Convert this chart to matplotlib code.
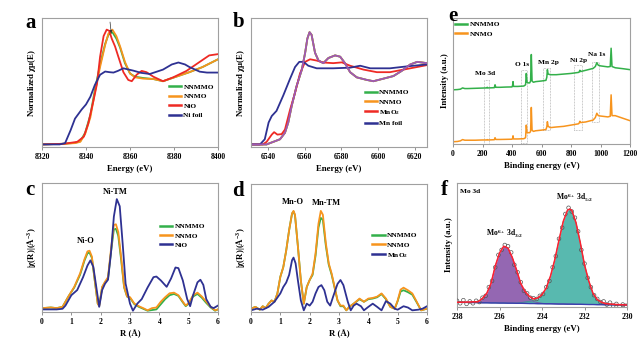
import matplotlib
matplotlib.use("Agg")
import matplotlib.pyplot as plt
from matplotlib.patches import Rectangle

plt.rcParams["font.family"] = ["Liberation Serif", "DejaVu Serif"]
plt.rcParams["font.weight"] = "bold"
plt.rcParams["mathtext.fontset"] = "custom"
plt.rcParams["mathtext.rm"] = "Liberation Serif:bold"
plt.rcParams["mathtext.it"] = "Liberation Serif:bold"
plt.rcParams["mathtext.bf"] = "Liberation Serif:bold"
plt.rcParams["mathtext.default"] = "rm"

GREEN = "#33b04a"
ORANGE = "#f7941d"
RED = "#ee2a24"
BLUE = "#2e3192"
PURPLE = "#9b59b6"

# ---- (a) Ni K-edge XANES (normalised)
a_nio_e = [8320, 8330, 8336, 8339, 8341, 8343.4, 8345, 8346.4, 8348, 8349.4, 8350.6, 8351.7,
           8353.2, 8354.7, 8357, 8359.2, 8360.8, 8363, 8365.3, 8367.5, 8370.6, 8375, 8379.6,
           8385.7, 8391.7, 8396, 8400]
a_nio = [0.02, 0.025, 0.04, 0.08, 0.18, 0.36, 0.49, 0.70, 0.86, 0.91, 0.90, 0.84, 0.78, 0.70,
         0.58, 0.52, 0.51, 0.56, 0.59, 0.58, 0.545, 0.51, 0.54, 0.59, 0.66, 0.71, 0.72]
a_foil_e = [8320, 8328, 8330.5, 8333, 8335, 8338, 8340, 8342, 8344, 8346.4, 8348.7, 8350.7,
            8352.5, 8354.5, 8357, 8361.5, 8365, 8369, 8375, 8379, 8382, 8385, 8387, 8391.7,
            8395, 8400]
a_foil = [0.02, 0.02, 0.03, 0.13, 0.22, 0.29, 0.33, 0.39, 0.48, 0.56, 0.585, 0.58, 0.577, 0.59,
          0.61, 0.592, 0.575, 0.566, 0.60, 0.64, 0.655, 0.64, 0.62, 0.584, 0.577, 0.577]
a_smp_e = [8320, 8330, 8335, 8337.4, 8339.6, 8342, 8344, 8346.4, 8348.7, 8350.2, 8352, 8353.8,
           8355.5, 8357.7, 8360, 8362.3, 8366, 8370.6, 8375, 8381, 8387, 8393, 8400]
a_nnmo = [0.02, 0.025, 0.03, 0.04, 0.10, 0.23, 0.42, 0.62, 0.79, 0.88, 0.91, 0.86, 0.78, 0.66,
          0.57, 0.54, 0.53, 0.527, 0.51, 0.545, 0.58, 0.62, 0.68]
a_nnmmo = [0.02, 0.025, 0.032, 0.045, 0.11, 0.25, 0.44, 0.64, 0.80, 0.87, 0.89, 0.84, 0.77,
           0.65, 0.57, 0.545, 0.535, 0.527, 0.51, 0.545, 0.58, 0.62, 0.68]

# ---- (b) Mn K-edge XANES
b_e = [6530.7, 6537.1, 6539.2, 6542.0, 6543.3, 6545.1, 6547.4, 6549.2, 6552.0, 6554.7, 6557.4,
       6560.2, 6562.9, 6566.5, 6570.1, 6575.5, 6580.2, 6584.7, 6592.0, 6599.3, 6606.4, 6613.8,
       6621.2, 6626.6]
b_mno2 = [0.02, 0.02, 0.04, 0.096, 0.115, 0.096, 0.10, 0.135, 0.29, 0.42, 0.57, 0.66, 0.68,
          0.67, 0.655, 0.65, 0.656, 0.63, 0.60, 0.58, 0.58, 0.60, 0.62, 0.635]
b_foil_e = [6530.7, 6535.6, 6538.2, 6540.3, 6542.0, 6544.6, 6548.3, 6552.0, 6554.7, 6557.0,
            6559.3, 6561.9, 6566.5, 6575.5, 6584.7, 6590.2, 6595.7, 6606.4, 6615.7, 6626.6]
b_foil = [0.02, 0.02, 0.06, 0.19, 0.24, 0.28, 0.40, 0.53, 0.62, 0.66, 0.66, 0.63, 0.61, 0.61,
          0.615, 0.63, 0.61, 0.61, 0.625, 0.64]
b_smp_e = [6530.7, 6539.2, 6541.0, 6543.8, 6546.5, 6549.2, 6551.0, 6552.9, 6555.5, 6558.4,
           6560.2, 6561.4, 6562.6, 6563.7, 6565.6, 6567.5, 6570.1, 6572.9, 6576.5, 6579.3,
           6581.9, 6584.7, 6588.3, 6593.8, 6597.4, 6602.9, 6608.3, 6612.8, 6617.5, 6621.3,
           6626.6]
b_nnmo = [0.02, 0.02, 0.03, 0.045, 0.06, 0.11, 0.19, 0.32, 0.47, 0.60, 0.73, 0.84, 0.89, 0.87,
          0.73, 0.67, 0.65, 0.69, 0.71, 0.70, 0.65, 0.58, 0.54, 0.52, 0.51, 0.53, 0.55, 0.59,
          0.64, 0.66, 0.65]
b_nnmmo = b_nnmo

# ---- (c) Ni FT-EXAFS
c_nio_r = [0, 0.5, 0.7, 0.8, 1.0, 1.2, 1.4, 1.55, 1.65, 1.75, 1.85, 1.95, 2.05, 2.15, 2.25, 2.35,
           2.45, 2.55, 2.65, 2.75, 2.85, 3.0, 3.1, 3.25, 3.4, 3.6, 3.8, 3.9, 4.05, 4.25, 4.4,
           4.55, 4.65, 4.8, 4.95, 5.05, 5.15, 5.3, 5.4, 5.5, 5.6, 5.75, 5.85, 6.0]
c_nio = [0.02, 0.02, 0.025, 0.05, 0.13, 0.17, 0.27, 0.36, 0.40, 0.35, 0.195, 0.04, 0.17, 0.22,
         0.25, 0.455, 0.74, 0.875, 0.82, 0.53, 0.22, 0.065, 0.01, 0.065, 0.10, 0.19, 0.27, 0.275,
         0.245, 0.195, 0.26, 0.345, 0.34, 0.245, 0.10, 0.045, 0.13, 0.23, 0.25, 0.21, 0.10,
         0.04, 0.03, 0.05]
c_smp_r = [0, 0.3, 0.5, 0.7, 0.9, 1.1, 1.3, 1.45, 1.55, 1.62, 1.7, 1.8, 1.9, 1.95, 2.05, 2.15,
           2.25, 2.35, 2.45, 2.52, 2.6, 2.7, 2.8, 2.9, 3.0, 3.15, 3.3, 3.45, 3.6, 3.75, 3.9,
           4.05, 4.2, 4.35, 4.5, 4.65, 4.8, 4.9, 5.0, 5.15, 5.3, 5.45, 5.6, 5.75, 5.9, 6.0]
c_nnmo = [0.03, 0.035, 0.03, 0.04, 0.12, 0.195, 0.30, 0.41, 0.47, 0.475, 0.43, 0.245, 0.065,
          0.045, 0.195, 0.235, 0.27, 0.48, 0.675, 0.68, 0.62, 0.42, 0.195, 0.12, 0.115, 0.065,
          0.045, 0.03, 0.013, 0.03, 0.035, 0.08, 0.115, 0.145, 0.15, 0.13, 0.08, 0.05, 0.07,
          0.13, 0.15, 0.12, 0.08, 0.04, 0.013, 0.02]
c_nnmmo = [0.03, 0.035, 0.03, 0.04, 0.12, 0.19, 0.29, 0.40, 0.455, 0.46, 0.42, 0.24, 0.065,
           0.05, 0.19, 0.23, 0.26, 0.46, 0.64, 0.645, 0.59, 0.40, 0.19, 0.12, 0.11, 0.06, 0.04,
           0.025, 0.01, 0.015, 0.02, 0.06, 0.10, 0.13, 0.14, 0.125, 0.075, 0.045, 0.065, 0.12,
           0.14, 0.11, 0.07, 0.035, 0.01, 0.02]

# ---- (d) Mn FT-EXAFS
d_smp_r = [0, 0.15, 0.3, 0.4, 0.5, 0.6, 0.7, 0.8, 0.9, 1.0, 1.1, 1.2, 1.3, 1.4, 1.45, 1.5, 1.6,
           1.7, 1.8, 1.9, 2.0, 2.1, 2.2, 2.3, 2.38, 2.45, 2.55, 2.65, 2.75, 2.85, 2.95, 3.05,
           3.15, 3.25, 3.35, 3.5, 3.7, 3.85, 4.0, 4.15, 4.3, 4.45, 4.6, 4.75, 4.9, 5.0, 5.1,
           5.2, 5.35, 5.5, 5.65, 5.8, 6.0]
d_nnmo = [0.026, 0.04, 0.018, 0.045, 0.03, 0.065, 0.09, 0.08, 0.145, 0.275, 0.35, 0.48, 0.64,
          0.77, 0.79, 0.76, 0.51, 0.245, 0.065, 0.195, 0.25, 0.30, 0.455, 0.69, 0.79, 0.76,
          0.54, 0.38, 0.30, 0.195, 0.09, 0.05, 0.05, 0.013, 0.04, 0.065, 0.105, 0.08, 0.105,
          0.11, 0.12, 0.145, 0.105, 0.04, 0.026, 0.09, 0.175, 0.19, 0.17, 0.145, 0.08, 0.013,
          0.026]
d_nnmmo = [0.026, 0.04, 0.018, 0.045, 0.03, 0.065, 0.09, 0.08, 0.145, 0.275, 0.35, 0.48, 0.64,
           0.77, 0.785, 0.755, 0.51, 0.245, 0.065, 0.195, 0.25, 0.29, 0.44, 0.66, 0.735, 0.72,
           0.52, 0.37, 0.29, 0.19, 0.09, 0.045, 0.045, 0.013, 0.04, 0.065, 0.10, 0.08, 0.10,
           0.105, 0.115, 0.14, 0.10, 0.04, 0.026, 0.085, 0.16, 0.17, 0.155, 0.135, 0.075, 0.013,
           0.026]
d_mno2_r = [0, 0.2, 0.4, 0.6, 0.8, 1.0, 1.1, 1.2, 1.3, 1.4, 1.45, 1.52, 1.6, 1.7, 1.8, 1.9, 2.0,
            2.1, 2.2, 2.3, 2.4, 2.5, 2.6, 2.7, 2.8, 2.95, 3.05, 3.15, 3.3, 3.4, 3.5, 3.6, 3.75,
            3.85, 4.0, 4.15, 4.3, 4.45, 4.6, 4.75, 4.9, 5.0, 5.2, 5.35, 5.5, 5.7, 5.85, 6.0]
d_mno2 = [0.013, 0.026, 0.018, 0.04, 0.08, 0.145, 0.195, 0.23, 0.29, 0.405, 0.425, 0.38, 0.245,
          0.09, 0.013, 0.065, 0.05, 0.08, 0.145, 0.195, 0.21, 0.17, 0.08, 0.05, 0.12, 0.22, 0.25,
          0.21, 0.08, 0.013, 0.05, 0.065, 0.045, 0.013, 0.04, 0.065, 0.04, 0.013, 0.085, 0.065,
          0.026, 0.018, 0.045, 0.035, 0.013, 0.018, 0.026, 0.045]

# ---- (e) XPS survey
e_be = [0, 30, 50, 65, 80, 100, 150, 200, 228, 232, 236, 260, 280, 285, 290, 320, 360, 400, 404,
        407, 410, 440, 480, 492, 497, 502, 510, 520, 526, 531, 536, 545, 560, 600, 630, 636, 640,
        645, 660, 700, 750, 800, 850, 855, 860, 865, 900, 950, 965, 975, 985, 1000, 1050, 1066,
        1072, 1078, 1100, 1150, 1200]
e_nnmmo = [0.43, 0.432, 0.435, 0.445, 0.44, 0.44, 0.442, 0.444, 0.445, 0.45, 0.445, 0.446, 0.447,
           0.47, 0.45, 0.45, 0.452, 0.453, 0.465, 0.495, 0.457, 0.457, 0.46, 0.47, 0.56, 0.49,
           0.485, 0.485, 0.50, 0.71, 0.50, 0.49, 0.495, 0.50, 0.505, 0.53, 0.59, 0.555, 0.55,
           0.55, 0.555, 0.56, 0.568, 0.57, 0.585, 0.575, 0.585, 0.60, 0.615, 0.645, 0.625, 0.62,
           0.612, 0.615, 0.76, 0.615, 0.605, 0.598, 0.59]
e_nnmo = [0.018, 0.02, 0.025, 0.035, 0.03, 0.03, 0.03, 0.032, 0.032, 0.035, 0.032, 0.033, 0.034,
          0.05, 0.036, 0.036, 0.037, 0.038, 0.045, 0.065, 0.04, 0.04, 0.042, 0.05, 0.15, 0.09,
          0.09, 0.09, 0.10, 0.29, 0.11, 0.10, 0.105, 0.11, 0.115, 0.135, 0.177, 0.14, 0.13,
          0.135, 0.14, 0.15, 0.16, 0.165, 0.18, 0.17, 0.175, 0.19, 0.21, 0.244, 0.225, 0.222,
          0.215, 0.22, 0.39, 0.225, 0.225, 0.205, 0.185]
e_regions = ["Mo 3d", "O 1s", "Mn 2p", "Ni 2p", "Na 1s"]
e_box_lo = [211, 459, 609, 823, 943]
e_box_hi = [245, 505, 659, 875, 989]
e_box_bot = [0.0, 0.01, 0.11, 0.11, 0.175]
e_box_top = [0.51, 0.59, 0.60, 0.63, 0.65]
e_lab_x = [216, 466, 648, 852, 977]
e_lab_y = [0.54, 0.615, 0.63, 0.64, 0.69]

# ---- (f) Mo 3d high-resolution XPS
f_pts_be = [238.0, 237.85, 237.7, 237.55, 237.4, 237.25, 237.1, 236.95, 236.8, 236.65, 236.5,
            236.35, 236.2, 236.05, 235.9, 235.75, 235.6, 235.45, 235.3, 235.15, 235.0, 234.85,
            234.7, 234.55, 234.4, 234.25, 234.1, 233.95, 233.8, 233.65, 233.5, 233.35, 233.2,
            233.05, 232.9, 232.75, 232.6, 232.45, 232.3, 232.15, 232.0, 231.85, 231.7, 231.55,
            231.4, 231.25, 231.1, 230.95, 230.8, 230.65, 230.5, 230.35, 230.2, 230.05]
f_pts = [0.05, 0.03, 0.055, 0.025, 0.045, 0.03, 0.05, 0.04, 0.075, 0.09, 0.16, 0.21, 0.32, 0.42,
         0.46, 0.50, 0.49, 0.44, 0.34, 0.28, 0.20, 0.13, 0.11, 0.075, 0.07, 0.065, 0.09, 0.105,
         0.16, 0.21, 0.32, 0.41, 0.55, 0.64, 0.75, 0.80, 0.77, 0.72, 0.61, 0.46, 0.35, 0.235,
         0.16, 0.095, 0.065, 0.04, 0.045, 0.02, 0.035, 0.01, 0.025, 0.005, 0.02, 0.01]
f_be = [238, 237.5, 237, 236.8, 236.6, 236.4, 236.2, 236.0, 235.8, 235.6, 235.4, 235.2, 235.0,
        234.8, 234.6, 234.4, 234.2, 234.0, 233.8, 233.6, 233.4, 233.2, 233.0, 232.8, 232.7,
        232.6, 232.4, 232.2, 232.0, 231.8, 231.6, 231.4, 231.2, 231.0, 230.5, 230]
f_env = [0.038, 0.04, 0.043, 0.07, 0.11, 0.19, 0.33, 0.435, 0.49, 0.475, 0.40, 0.30, 0.19, 0.126,
         0.086, 0.065, 0.073, 0.10, 0.153, 0.25, 0.38, 0.54, 0.69, 0.78, 0.79, 0.78, 0.68, 0.52,
         0.34, 0.21, 0.11, 0.06, 0.038, 0.027, 0.02, 0.016]
f_bg = [0.038, 0.037, 0.035, 0.034, 0.034, 0.033, 0.033, 0.032, 0.032, 0.031, 0.031, 0.030, 0.030,
        0.029, 0.028, 0.028, 0.027, 0.027, 0.026, 0.026, 0.025, 0.024, 0.024, 0.023, 0.023, 0.023,
        0.022, 0.022, 0.021, 0.020, 0.020, 0.019, 0.019, 0.018, 0.017, 0.016]
f_d32 = [0.038, 0.037, 0.043, 0.07, 0.11, 0.19, 0.33, 0.435, 0.49, 0.475, 0.40, 0.30, 0.185,
         0.115, 0.07, 0.045, 0.035, 0.030, 0.027, 0.026, 0.025, 0.024, 0.024, 0.023, 0.023, 0.023,
         0.022, 0.022, 0.021, 0.020, 0.020, 0.019, 0.019, 0.018, 0.017, 0.016]
f_d52 = [0.038, 0.037, 0.035, 0.034, 0.034, 0.033, 0.033, 0.032, 0.032, 0.031, 0.031, 0.031,
         0.035, 0.041, 0.046, 0.05, 0.066, 0.097, 0.15, 0.248, 0.38, 0.54, 0.69, 0.78, 0.79, 0.78,
         0.68, 0.52, 0.34, 0.21, 0.11, 0.06, 0.038, 0.027, 0.02, 0.016]

W, H = 642, 348
fig = plt.figure(figsize=(W / 100, H / 100), dpi=100)


def box(l, t, r, b):
    return [l / W, 1 - b / H, (r - l) / W, (b - t) / H]


def style(ax, xlabel, ylabel, xlim, xticks, ypad=3):
    ax.set_xlim(*xlim)
    ax.set_ylim(0, 1)
    ax.set_xticks(xticks)
    ax.set_yticks([])
    for s in ax.spines.values():
        s.set_color("#a0a0a0")
        s.set_linewidth(0.8)
    ax.tick_params(axis="x", direction="out", length=2, width=0.6, color="#808080",
                   labelsize=5.5, pad=2)
    for lab in ax.get_xticklabels():
        lab.set_fontweight("bold")
    ax.set_xlabel(xlabel, fontsize=6.3, fontweight="bold", labelpad=3)
    ax.set_ylabel(ylabel, fontsize=6.3, fontweight="bold", labelpad=ypad)


def legend(ax, x, y):
    leg = ax.legend(loc="upper left", bbox_to_anchor=(x, y), frameon=False, fontsize=5.3,
                    handlelength=1.7, handletextpad=0.3, labelspacing=0.45, borderpad=0,
                    borderaxespad=0)
    for line in leg.get_lines():
        line.set_linewidth(1.8)


lw = 1.3

# (a)
ax = fig.add_axes(box(42, 18, 218, 147))
ax.plot(a_smp_e, a_nnmmo, color=GREEN, lw=lw, label="NNMMO")
ax.plot(a_smp_e, a_nnmo, color=ORANGE, lw=lw, label="NNMO")
ax.plot(a_nio_e, a_nio, color=RED, lw=lw, label="NiO")
ax.plot(a_foil_e, a_foil, color=BLUE, lw=lw, label="Ni foil")
ax.annotate("", xy=(8351.6, 0.86), xytext=(8350.8, 0.99),
            arrowprops=dict(arrowstyle="-|>", lw=0.5, color="#333333", mutation_scale=4))
style(ax, "Energy (eV)", r"Normalized $\chi\mu$(E)", (8320, 8400), range(8320, 8401, 20))
legend(ax, 0.72, 0.49)

# (b)
ax = fig.add_axes(box(251, 18, 427, 147))
ax.plot(b_smp_e, b_nnmmo, color=GREEN, lw=lw, label="NNMMO")
ax.plot(b_smp_e, b_nnmo, color=ORANGE, lw=lw, label="NNMO")
ax.plot(b_e, b_mno2, color=RED, lw=lw, label=r"MnO$_2$")
ax.plot(b_foil_e, b_foil, color=BLUE, lw=lw, label="Mn foil")
ax.plot(b_smp_e, b_nnmo, color=PURPLE, lw=lw)
style(ax, "Energy (eV)", r"Normalized $\chi\mu$(E)", (6530.7, 6626.6), range(6540, 6621, 20))
legend(ax, 0.645, 0.45)

# (e)
ax = fig.add_axes(box(453, 18, 630, 144))
for lo, hi, bot, top in zip(e_box_lo, e_box_hi, e_box_bot, e_box_top):
    ax.add_patch(Rectangle((lo, bot), hi - lo, top - bot, fill=False, ls=(0, (1, 1.2)),
                           lw=0.5, ec="#9a9a9a"))
ax.plot(e_be, e_nnmmo, color=GREEN, lw=1.1, label="NNMMO")
ax.plot(e_be, e_nnmo, color=ORANGE, lw=1.1, label="NNMO")
for name, x, y in zip(e_regions, e_lab_x, e_lab_y):
    ax.text(x, y, name, fontsize=5.3, fontweight="bold", ha="center", va="bottom")
style(ax, "Binding energy (eV)", "Intensity (a.u.)", (0, 1200), range(0, 1201, 200))
legend(ax, 0.01, 0.975)

# (c)
ax = fig.add_axes(box(42, 183, 218, 312))
ax.plot(c_smp_r, c_nnmmo, color=GREEN, lw=lw, label="NNMMO")
ax.plot(c_smp_r, c_nnmo, color=ORANGE, lw=lw, label="NNMO")
ax.plot(c_nio_r, c_nio, color=BLUE, lw=lw, label="NiO")
ax.text(1.5, 0.52, "Ni-O", fontsize=6, fontweight="bold", ha="center", va="bottom")
ax.text(2.5, 0.9, "Ni-TM", fontsize=6, fontweight="bold", ha="center", va="bottom")
style(ax, "R (Å)", r"|$\chi$(R)|(Å$^{-3}$)", (0, 6), range(0, 7))
legend(ax, 0.67, 0.69)

# (d)
ax = fig.add_axes(box(251, 184, 427, 312))
ax.plot(d_smp_r, d_nnmmo, color=GREEN, lw=lw, label="NNMMO")
ax.plot(d_smp_r, d_nnmo, color=ORANGE, lw=lw, label="NNMO")
ax.plot(d_mno2_r, d_mno2, color=BLUE, lw=lw, label=r"MnO$_2$")
ax.text(1.42, 0.83, "Mn-O", fontsize=6, fontweight="bold", ha="center", va="bottom")
ax.text(2.57, 0.82, "Mn-TM", fontsize=6, fontweight="bold", ha="center", va="bottom")
style(ax, "R (Å)", r"|$\chi$(R)|(Å$^{-3}$)", (0, 6), range(0, 7))
legend(ax, 0.69, 0.625)

# (f)
ax = fig.add_axes(box(457, 183, 627, 307))
ax.fill_between(f_be, f_bg, f_d32, color="#8e5fae", alpha=0.95, lw=0)
ax.fill_between(f_be, f_bg, f_d52, color="#4fb5ab", alpha=0.95, lw=0)
ax.plot(f_be, f_d32, color="#7b4fa0", lw=0.6)
ax.plot(f_be, f_d52, color="#3a9a90", lw=0.6)
ax.plot(f_be, f_bg, color="#3a3fae", lw=1.0)
ax.scatter(f_pts_be, f_pts, s=7, facecolors="none", edgecolors="#555555", linewidths=0.5,
           zorder=3)
ax.plot(f_be, f_env, color="#ff2030", lw=1.1, zorder=4)
ax.text(0.02, 0.93, "Mo 3d", transform=ax.transAxes, fontsize=5.3, fontweight="bold",
        va="center")
ax.text(235.75, 0.54, r"Mo$^{6+}$ 3d$_{3/2}$", fontsize=5.5, ha="center", va="bottom")
ax.text(232.45, 0.83, r"Mo$^{6+}$ 3d$_{5/2}$", fontsize=5.5, ha="center", va="bottom")
style(ax, "Binding energy (eV)", "Intensity (a.u.)", (238, 230), range(238, 229, -2))

for letter, x, y in [("a", 25, 28), ("b", 233, 27), ("e", 448, 21),
                     ("c", 25, 195), ("d", 232, 196), ("f", 441, 195)]:
    fig.text(x / W, 1 - y / H, letter, fontsize=15, fontweight="bold", va="baseline")

fig.savefig("out.png", dpi=100)
